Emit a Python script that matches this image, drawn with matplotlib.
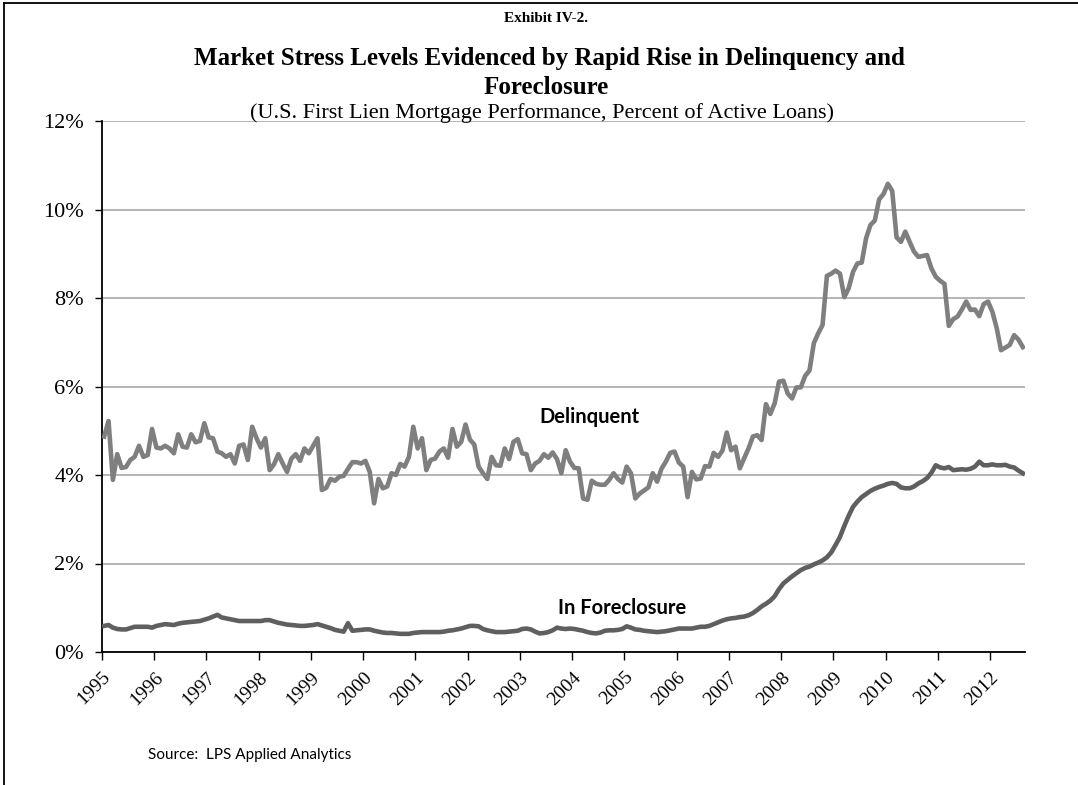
import matplotlib
matplotlib.use("Agg")
import matplotlib.pyplot as plt
from matplotlib.lines import Line2D
import numpy as np

years = [str(y) for y in range(1995, 2013)]

delinquent = [
    4.87, 5.22, 3.89, 4.47, 4.16, 4.18, 4.34, 4.41, 4.66, 4.41, 4.45, 5.04,
    4.62, 4.60, 4.66, 4.60, 4.49, 4.92, 4.64, 4.62, 4.92, 4.74, 4.77, 5.17,
    4.85, 4.83, 4.53, 4.49, 4.41, 4.47, 4.26, 4.66, 4.69, 4.34, 5.09, 4.83,
    4.62, 4.83, 4.11, 4.24, 4.47, 4.26, 4.07, 4.37, 4.47, 4.32, 4.60, 4.49,
    4.66, 4.83, 3.66, 3.71, 3.91, 3.87, 3.96, 3.98, 4.14, 4.29, 4.29, 4.26,
    4.32, 4.07, 3.36, 3.91, 3.70, 3.74, 4.04, 4.00, 4.25, 4.19, 4.41, 5.09,
    4.60, 4.83, 4.11, 4.34, 4.37, 4.53, 4.60, 4.39, 5.04, 4.64, 4.75, 5.14,
    4.80, 4.69, 4.19, 4.04, 3.91, 4.41, 4.22, 4.21, 4.60, 4.36, 4.75, 4.81,
    4.49, 4.47, 4.11, 4.26, 4.32, 4.47, 4.39, 4.51, 4.36, 4.04, 4.56, 4.30,
    4.16, 4.15, 3.47, 3.44, 3.87, 3.80, 3.78, 3.78, 3.89, 4.04, 3.91, 3.83,
    4.19, 4.04, 3.47, 3.58, 3.65, 3.72, 4.04, 3.85, 4.14, 4.30, 4.50, 4.53,
    4.28, 4.19, 3.50, 4.07, 3.90, 3.92, 4.20, 4.19, 4.50, 4.41, 4.55, 4.96,
    4.56, 4.64, 4.15, 4.38, 4.60, 4.87, 4.90, 4.79, 5.60, 5.38, 5.62, 6.11,
    6.13, 5.84, 5.73, 5.98, 5.98, 6.24, 6.36, 6.98, 7.20, 7.39, 8.50, 8.55,
    8.62, 8.55, 8.02, 8.22, 8.59, 8.78, 8.80, 9.35, 9.65, 9.75, 10.23, 10.35,
    10.58, 10.42, 9.37, 9.27, 9.50, 9.27, 9.05, 8.93, 8.95, 8.97, 8.67, 8.48,
    8.39, 8.32, 7.37, 7.52, 7.58, 7.74, 7.92, 7.73, 7.74, 7.59, 7.86, 7.92,
    7.69, 7.32, 6.82, 6.88, 6.94, 7.16, 7.06, 6.89,
]

foreclosure = [
    0.59, 0.61, 0.55, 0.52, 0.51, 0.51, 0.54, 0.57, 0.57, 0.57, 0.57, 0.55,
    0.59, 0.61, 0.63, 0.62, 0.61, 0.64, 0.66, 0.67, 0.68, 0.69, 0.70, 0.73,
    0.76, 0.80, 0.84, 0.78, 0.76, 0.74, 0.72, 0.70, 0.70, 0.70, 0.70, 0.70,
    0.70, 0.72, 0.72, 0.69, 0.66, 0.64, 0.62, 0.61, 0.60, 0.59, 0.59, 0.60,
    0.61, 0.63, 0.60, 0.57, 0.54, 0.50, 0.48, 0.46, 0.65, 0.48, 0.49, 0.50,
    0.51, 0.51, 0.48, 0.46, 0.44, 0.43, 0.43, 0.42, 0.41, 0.41, 0.41, 0.43,
    0.44, 0.45, 0.45, 0.45, 0.45, 0.45, 0.46, 0.48, 0.49, 0.51, 0.53, 0.56,
    0.59, 0.59, 0.58, 0.52, 0.49, 0.47, 0.45, 0.45, 0.45, 0.46, 0.47, 0.48,
    0.52, 0.53, 0.51, 0.46, 0.42, 0.43, 0.45, 0.49, 0.55, 0.53, 0.52, 0.53,
    0.52, 0.50, 0.48, 0.45, 0.43, 0.42, 0.44, 0.48, 0.49, 0.49, 0.50, 0.52,
    0.58, 0.55, 0.51, 0.50, 0.48, 0.47, 0.46, 0.45, 0.46, 0.47, 0.49, 0.51,
    0.53, 0.53, 0.53, 0.53, 0.55, 0.57, 0.57, 0.59, 0.63, 0.67, 0.71, 0.74,
    0.76, 0.77, 0.79, 0.80, 0.83, 0.88, 0.95, 1.03, 1.09, 1.16, 1.26, 1.42,
    1.55, 1.63, 1.71, 1.78, 1.85, 1.90, 1.93, 1.98, 2.02, 2.07, 2.14, 2.25,
    2.42, 2.60, 2.85, 3.08, 3.28, 3.40, 3.50, 3.57, 3.64, 3.69, 3.73, 3.76,
    3.80, 3.82, 3.80, 3.72, 3.70, 3.70, 3.74, 3.81, 3.86, 3.93, 4.05, 4.22,
    4.17, 4.15, 4.18, 4.11, 4.12, 4.13, 4.12, 4.14, 4.19, 4.30, 4.22, 4.22,
    4.24, 4.22, 4.22, 4.23, 4.19, 4.17, 4.10, 4.04,
]

yticks = [0, 2, 4, 6, 8, 10, 12]

n = len(delinquent)
x = np.arange(n) + 0.5

fig = plt.figure(figsize=(10.78, 7.85), dpi=100)
ax = fig.add_axes([102/1078, 1-652/785, (1025-102)/1078, (652-121)/785])

serif = "Liberation Serif"
sans = "Lato"

ax.plot(x, delinquent, color="#7f7f7f", lw=3.3, solid_joinstyle="round", zorder=3)
ax.plot(np.arange(len(foreclosure)) + 0.5, foreclosure, color="#5f5f5f", lw=3.3,
        solid_joinstyle="round", zorder=3)

ax.set_xlim(0, n)
ax.set_ylim(0, 12)
ax.set_yticks(yticks)
ax.set_yticklabels([f"{v}%" for v in yticks], fontfamily=serif, fontsize=16)
ax.yaxis.grid(True, color="#a0a0a0", lw=1.1)
ax.set_axisbelow(True)

ax.set_xticks(np.arange(len(years)) * 12)
ax.set_xticklabels(years, rotation=45, ha="right", va="top", rotation_mode="anchor",
                   fontfamily=serif, fontsize=14)
ax.tick_params(axis="x", direction="out", length=6, width=1, pad=6)
ax.tick_params(axis="y", direction="out", length=5, width=1, pad=8)

for s in ["top", "right"]:
    ax.spines[s].set_visible(False)
for s in ["left", "bottom"]:
    ax.spines[s].set_color("black")
    ax.spines[s].set_linewidth(1.3)

ax.text(100.5, 5.3, "Delinquent", fontfamily=sans, fontweight="bold", fontsize=14.5,
        ha="left", va="center")
ax.text(104.8, 1.0, "In Foreclosure", fontfamily=sans, fontweight="bold", fontsize=14.5,
        ha="left", va="center")

fig.text(546/1078, 1-18/785, "Exhibit IV-2.", fontfamily=serif, fontweight="bold",
         fontsize=11, ha="center", va="center")
fig.text(549/1078, 1-58/785, "Market Stress Levels Evidenced by Rapid Rise in Delinquency and",
         fontfamily=serif, fontweight="bold", fontsize=18, ha="center", va="center")
fig.text(546/1078, 1-87/785, "Foreclosure", fontfamily=serif, fontweight="bold",
         fontsize=18, ha="center", va="center")
fig.text(542/1078, 1-113/785,
         "(U.S. First Lien Mortgage Performance, Percent of Active Loans)",
         fontfamily=serif, fontsize=16, ha="center", va="center")
fig.text(148/1078, 1-755/785, "Source:  LPS Applied Analytics", fontfamily=sans,
         fontsize=11, ha="left", va="center")

fig.add_artist(Line2D([4/1078, 4/1078], [0, 1-3/785], color="black", lw=1.3))
fig.add_artist(Line2D([4/1078, 1], [1-3/785, 1-3/785], color="black", lw=1.3))

fig.savefig("out.png", dpi=100)
